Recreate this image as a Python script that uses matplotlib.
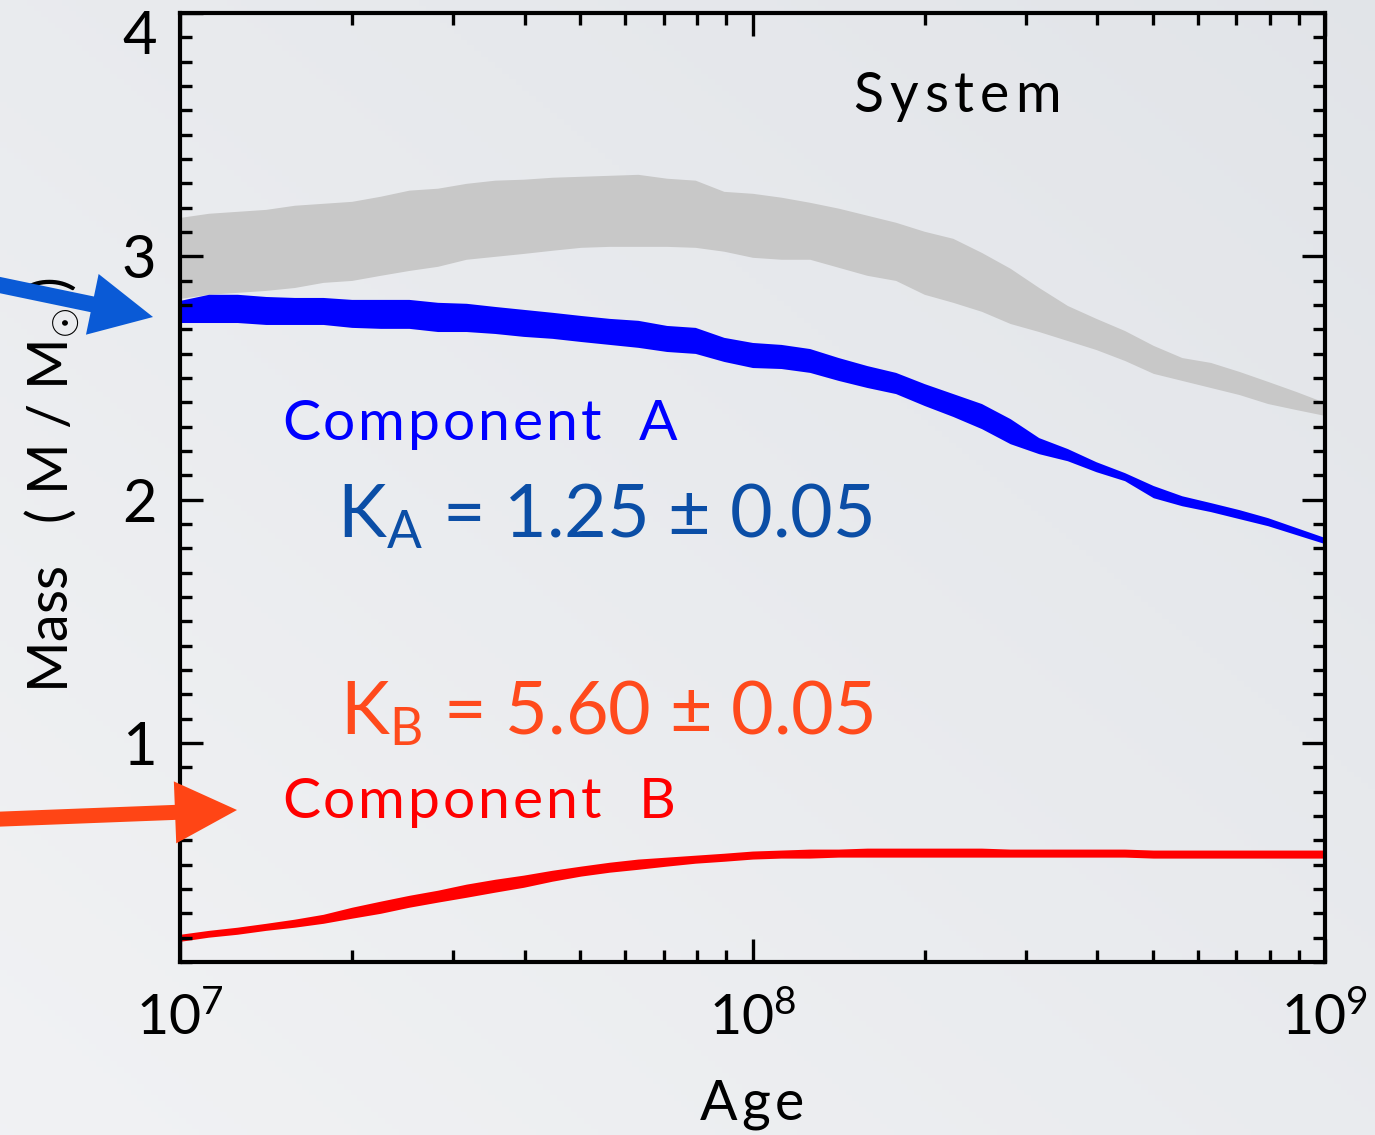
"""Mass vs age for the binary system: grey = system, blue = component A, red = component B."""

import numpy as np
import matplotlib
matplotlib.use("Agg")
import matplotlib.pyplot as plt
from matplotlib.patches import FancyArrow
from matplotlib.transforms import IdentityTransform
from matplotlib.ticker import MultipleLocator, LogLocator, NullFormatter

W, H, DPI = 1375, 1135, 100

# ---------------------------------------------------------------------------
# data (log10 age grid, 0.05 dex steps)
# ---------------------------------------------------------------------------
log_age = np.round(np.arange(7.0, 9.0001, 0.05), 2)

system_hi = [3.160, 3.177, 3.185, 3.193, 3.210, 3.218, 3.226, 3.247, 3.272, 3.280,
             3.300, 3.313, 3.317, 3.325, 3.329, 3.333, 3.337, 3.321, 3.313, 3.267,
             3.259, 3.243, 3.222, 3.198, 3.169, 3.140, 3.103, 3.074, 3.016, 2.951,
             2.872, 2.798, 2.745, 2.695, 2.634, 2.584, 2.564, 2.527, 2.486, 2.444, 2.399]
system_lo = [2.827, 2.844, 2.852, 2.860, 2.872, 2.893, 2.901, 2.922, 2.942, 2.959,
             2.988, 3.000, 3.012, 3.025, 3.037, 3.041, 3.041, 3.041, 3.037, 3.021,
             2.996, 2.988, 2.988, 2.955, 2.922, 2.901, 2.844, 2.811, 2.774, 2.724,
             2.691, 2.654, 2.617, 2.572, 2.519, 2.490, 2.461, 2.432, 2.395, 2.370, 2.346]

comp_a_hi = [2.819, 2.844, 2.844, 2.835, 2.831, 2.831, 2.823, 2.823, 2.823, 2.811,
             2.807, 2.794, 2.782, 2.770, 2.757, 2.745, 2.737, 2.716, 2.708, 2.667,
             2.646, 2.638, 2.621, 2.584, 2.551, 2.523, 2.477, 2.436, 2.395, 2.333,
             2.255, 2.210, 2.156, 2.111, 2.058, 2.016, 1.988, 1.959, 1.926, 1.885, 1.844]
comp_a_lo = [2.728, 2.728, 2.728, 2.720, 2.720, 2.720, 2.708, 2.704, 2.704, 2.691,
             2.691, 2.683, 2.671, 2.663, 2.650, 2.638, 2.626, 2.609, 2.601, 2.568,
             2.543, 2.539, 2.523, 2.490, 2.461, 2.436, 2.387, 2.342, 2.292, 2.230,
             2.189, 2.160, 2.115, 2.078, 2.008, 1.975, 1.951, 1.922, 1.893, 1.856, 1.819]

comp_b_hi = [0.214, 0.230, 0.243, 0.259, 0.276, 0.296, 0.325, 0.350, 0.374, 0.395,
             0.420, 0.440, 0.457, 0.477, 0.494, 0.510, 0.523, 0.531, 0.539, 0.547,
             0.556, 0.560, 0.564, 0.564, 0.568, 0.568, 0.568, 0.568, 0.568, 0.564,
             0.564, 0.564, 0.564, 0.564, 0.560, 0.560, 0.560, 0.560, 0.560, 0.560, 0.560]
comp_b_lo = [0.185, 0.202, 0.214, 0.230, 0.243, 0.259, 0.280, 0.300, 0.325, 0.346,
             0.366, 0.387, 0.407, 0.432, 0.453, 0.469, 0.481, 0.494, 0.506, 0.514,
             0.523, 0.527, 0.527, 0.531, 0.531, 0.531, 0.531, 0.531, 0.531, 0.531,
             0.531, 0.531, 0.531, 0.531, 0.527, 0.527, 0.527, 0.527, 0.527, 0.527, 0.527]

k_a_text = r"K$_{\mathrm{A}}$ = 1.25 ± 0.05"
k_b_text = r"K$_{\mathrm{B}}$ = 5.60 ± 0.05"

# ---------------------------------------------------------------------------
# style
# ---------------------------------------------------------------------------
plt.rcParams["font.family"] = ["Lato", "DejaVu Sans"]
plt.rcParams["mathtext.fontset"] = "custom"
plt.rcParams["mathtext.rm"] = "Lato"
plt.rcParams["mathtext.it"] = "Lato"
plt.rcParams["mathtext.bf"] = "Lato"

fig = plt.figure(figsize=(W / DPI, H / DPI), dpi=DPI)
renderer = fig.canvas.get_renderer()


def px(x, y):
    """pixel (from top-left) -> figure fraction"""
    return x / W, 1 - y / H


def _w(s, **kw):
    # width of s incl. spaces -- bracket it with bars so blanks are counted
    t = fig.text(0, 0, "|" + s + "|", **kw)
    w1 = t.get_window_extent(renderer).width
    t.remove()
    t = fig.text(0, 0, "||", **kw)
    w2 = t.get_window_extent(renderer).width
    t.remove()
    return w1 - w2


def tracked(x, y, s, track, **kw):
    """letter-spaced text, the reference font is set wide"""
    for i, ch in enumerate(s):
        if ch == " ":
            continue
        xi = x + _w(s[:i], **kw) + i * track
        fig.text(*px(xi, y), ch, ha="left", va="baseline", **kw)


# soft grey background gradient (darker towards top right)
bg = fig.add_axes([0, 0, 1, 1], zorder=-5)
gx, gy = np.meshgrid(np.linspace(0, 1, 200), np.linspace(0, 1, 200))
shade = np.clip(0.6 * gx + 0.6 * (1 - gy), 0, 1.2) / 1.2
c0 = np.array([0.945, 0.949, 0.957])
c1 = np.array([0.885, 0.895, 0.912])
img = c0[None, None, :] * (1 - shade[..., None]) + c1[None, None, :] * shade[..., None]
bg.imshow(img, aspect="auto", extent=[0, 1, 0, 1])
bg.axis("off")

ax = fig.add_axes([180 / W, 1 - 962 / H, (1325 - 180) / W, (962 - 13) / H])
ax.patch.set_alpha(0)

age = 10 ** log_age
ax.fill_between(age, system_lo, system_hi, color="#c8c8c8", lw=0)
ax.fill_between(age, comp_a_lo, comp_a_hi, color="#0000ff", lw=0)
ax.fill_between(age, comp_b_lo, comp_b_hi, color="#ff0000", lw=0)

ax.set_xscale("log")
ax.set_xlim(1e7, 1e9)
ax.set_ylim(0.1, 4.0)

ax.set_xticks([1e7, 1e8, 1e9])
ax.set_xticklabels([r"10$^{7}$", r"10$^{8}$", r"10$^{9}$"])
ax.xaxis.set_minor_locator(LogLocator(base=10, subs=np.arange(2, 10)))
ax.xaxis.set_minor_formatter(NullFormatter())
ax.set_yticks([1, 2, 3, 4])
ax.set_yticklabels(["1", "2", "3", ""])
ax.yaxis.set_minor_locator(MultipleLocator(0.1))

for s in ax.spines.values():
    s.set_linewidth(3)
ax.tick_params(which="both", direction="in", top=True, right=True, width=2.4, colors="black")
ax.tick_params(which="major", length=16.5)
ax.tick_params(which="minor", length=8.6)
ax.tick_params(axis="y", which="major", labelsize=43, pad=17)
ax.tick_params(axis="x", which="major", labelsize=40, pad=22)

# IDL put the "4" a bit under the top edge
ax.annotate("4", xy=(0, 3.9), xycoords=("axes fraction", "data"), xytext=(-23, 0),
            textcoords="offset pixels", ha="right", va="center", fontsize=43)

# ---------------------------------------------------------------------------
# labels / annotations
# ---------------------------------------------------------------------------
tracked(700, 1120, "Age", 4, fontsize=40)
fig.text(*px(52, 485), r"Mass   ( M / M$_{\odot}$ )", fontsize=40, rotation=90,
         ha="center", va="center")

tracked(853, 112, "System", 6, fontsize=40, color="black")
tracked(282, 440, "Component  A", 2.9, fontsize=41, color="#0000ff")
tracked(282, 818, "Component  B", 2.9, fontsize=41, color="#ff0000")
fig.text(*px(337, 538), k_a_text, fontsize=53, ha="left", va="baseline", color="#0b4ea6")
fig.text(*px(340, 735), k_b_text, fontsize=53, ha="left", va="baseline", color="#ff4a1c")

# arrows pointing into the plot (display pixels, origin bottom-left)
fig.add_artist(FancyArrow(-10, H - 283, 163, -34, width=16, head_width=62, head_length=62,
                          length_includes_head=True, color="#0a5ad6", lw=0,
                          transform=IdentityTransform(), zorder=5))
fig.add_artist(FancyArrow(-10, H - 819.5, 247, 9.5, width=15, head_width=62, head_length=62,
                          length_includes_head=True, color="#ff4515", lw=0,
                          transform=IdentityTransform(), zorder=5))

fig.savefig("out.png", dpi=DPI)
